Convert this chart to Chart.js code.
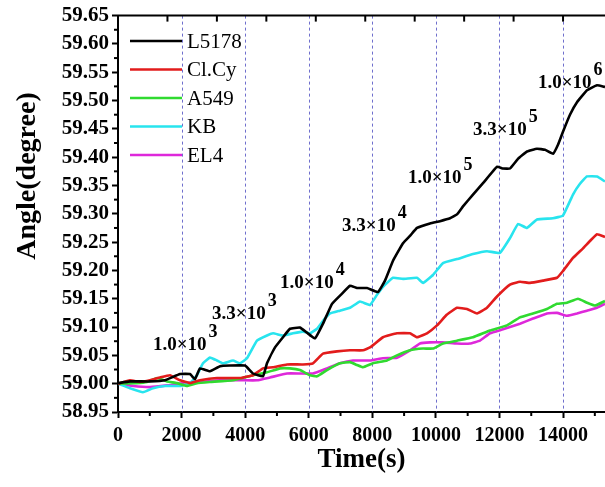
<!DOCTYPE html>
<html>
<head>
<meta charset="utf-8">
<script src="https://cdn.jsdelivr.net/npm/chart.js@4.4.1/dist/chart.umd.min.js"></script>
<style>
  html, body { margin: 0; padding: 0; background: #fff; }
  #wrap { width: 605px; height: 487px; position: relative; }
</style>
</head>
<body>
<div id="wrap"><canvas id="chart"></canvas></div>
<script>
// --- data ---
const seriesNames = ['L5178', 'Cl.Cy', 'A549', 'KB', 'EL4'];
const seriesColors = ['#000000', 'rgb(226,28,28)', 'rgb(48,218,48)', 'rgb(40,228,238)', 'rgb(222,40,218)'];

const l5178Time = [0, 377, 1007, 1478, 1950, 2265, 2422, 2579, 2894, 3209, 3523, 3995, 4247, 4561, 4687, 4939, 5190, 5410, 5725, 5945, 6197, 6449, 6732, 7046, 7298, 7518, 7833, 8179, 8399, 8651, 8965, 9185, 9406, 9815, 10129, 10444, 10664, 10852, 11167, 11482, 11922, 12111, 12331, 12583, 12866, 13180, 13432, 13684, 13841, 13998, 14218, 14439, 14753, 15068, 15320];
const l5178Angle = [59.001, 59.004, 59.004, 59.006, 59.017, 59.017, 59.008, 59.027, 59.022, 59.031, 59.032, 59.032, 59.018, 59.013, 59.036, 59.064, 59.082, 59.097, 59.099, 59.090, 59.080, 59.106, 59.141, 59.159, 59.173, 59.169, 59.169, 59.162, 59.182, 59.217, 59.248, 59.261, 59.275, 59.283, 59.287, 59.292, 59.299, 59.313, 59.334, 59.354, 59.383, 59.380, 59.380, 59.397, 59.410, 59.415, 59.413, 59.406, 59.422, 59.445, 59.475, 59.497, 59.518, 59.527, 59.524];

const clcyTime = [0, 377, 692, 1007, 1321, 1636, 1950, 2265, 2579, 3114, 3838, 4247, 4561, 4876, 5316, 5820, 6134, 6449, 6889, 7298, 7707, 7927, 8336, 8776, 9185, 9406, 9720, 10035, 10349, 10664, 10978, 11293, 11607, 11922, 12331, 12646, 12960, 13369, 13809, 13998, 14313, 14628, 14848, 15068, 15320];
const clcyAngle = [59.000, 59.006, 59.003, 59.006, 59.011, 59.015, 59.006, 59.001, 59.006, 59.010, 59.010, 59.015, 59.027, 59.029, 59.034, 59.034, 59.036, 59.053, 59.057, 59.059, 59.059, 59.064, 59.082, 59.089, 59.089, 59.082, 59.089, 59.103, 59.122, 59.134, 59.132, 59.124, 59.134, 59.154, 59.175, 59.180, 59.178, 59.182, 59.187, 59.199, 59.222, 59.239, 59.252, 59.264, 59.259];

const a549Time = [0, 598, 912, 1227, 1541, 1856, 2171, 2485, 2894, 3618, 4247, 4687, 5096, 5410, 5725, 6040, 6260, 6574, 6983, 7298, 7518, 7707, 8021, 8462, 8776, 9185, 9594, 9909, 10224, 10664, 11167, 11702, 12237, 12646, 13055, 13495, 13809, 14124, 14470, 14753, 15005, 15320];
const a549Angle = [59.000, 59.001, 59.003, 59.010, 59.004, 59.001, 58.996, 59.001, 59.003, 59.006, 59.015, 59.020, 59.027, 59.027, 59.024, 59.015, 59.013, 59.024, 59.036, 59.038, 59.033, 59.029, 59.036, 59.041, 59.050, 59.059, 59.062, 59.062, 59.071, 59.076, 59.082, 59.094, 59.103, 59.117, 59.124, 59.132, 59.141, 59.143, 59.150, 59.143, 59.138, 59.146];

const kbTime = [0, 377, 786, 1101, 1478, 1950, 2265, 2485, 2674, 2894, 3114, 3303, 3618, 3838, 4058, 4372, 4687, 4876, 5190, 5505, 5820, 6040, 6260, 6449, 6669, 6983, 7298, 7613, 7927, 8147, 8336, 8651, 8965, 9406, 9594, 9909, 10224, 10664, 11167, 11607, 12016, 12331, 12583, 12866, 13180, 13684, 13998, 14313, 14533, 14753, 15068, 15320];
const kbAngle = [59.000, 58.992, 58.985, 58.992, 58.996, 58.996, 59.001, 59.015, 59.036, 59.046, 59.041, 59.036, 59.041, 59.036, 59.045, 59.076, 59.085, 59.089, 59.085, 59.089, 59.092, 59.089, 59.097, 59.111, 59.124, 59.129, 59.134, 59.145, 59.139, 59.157, 59.171, 59.187, 59.185, 59.187, 59.178, 59.192, 59.213, 59.220, 59.229, 59.234, 59.231, 59.257, 59.282, 59.275, 59.290, 59.292, 59.297, 59.334, 59.353, 59.366, 59.366, 59.357];

const el4Time = [0, 472, 1007, 1541, 2045, 2579, 3209, 3932, 4372, 4781, 5316, 5725, 6134, 6574, 6983, 7392, 7927, 8336, 8776, 9185, 9500, 9815, 10224, 10664, 11073, 11387, 11702, 12111, 12646, 13055, 13495, 13809, 14124, 14439, 14753, 15068, 15320];
const el4Angle = [59.000, 58.996, 58.994, 58.997, 59.001, 59.003, 59.006, 59.006, 59.006, 59.011, 59.018, 59.018, 59.018, 59.027, 59.036, 59.041, 59.041, 59.045, 59.046, 59.059, 59.071, 59.073, 59.073, 59.071, 59.071, 59.076, 59.089, 59.096, 59.106, 59.115, 59.124, 59.125, 59.120, 59.124, 59.129, 59.134, 59.141];

// concentration labels (cells/mL) placed along the L5178 curve
const concMantissa = ['1.0\u00d710', '3.3\u00d710', '1.0\u00d710', '3.3\u00d710', '1.0\u00d710', '3.3\u00d710', '1.0\u00d710'];
const concExponent = ['3', '3', '4', '4', '5', '5', '6'];
const concTime = [1100, 2960, 5100, 7050, 9120, 11170, 13210];
const concAngle = [59.060, 59.115, 59.169, 59.269, 59.354, 59.440, 59.522];

const X_MAX = 15320;
const xMajorTicks = [0, 2000, 4000, 6000, 8000, 10000, 12000, 14000];
const xMinorTicks = [1000, 3000, 5000, 7000, 9000, 11000, 13000, 15000];
const yTickLabels = ['58.95', '59.00', '59.05', '59.10', '59.15', '59.20', '59.25', '59.30', '59.35', '59.40', '59.45', '59.50', '59.55', '59.60', '59.65'];

const serif = "'Liberation Serif', 'Times New Roman', serif";

const times = [l5178Time, clcyTime, a549Time, kbTime, el4Time];
const angles = [l5178Angle, clcyAngle, a549Angle, kbAngle, el4Angle];

const datasets = seriesNames.map((name, i) => ({
    label: name,
    data: times[i].map((t, k) => ({ x: t, y: angles[i][k] })),
    borderColor: seriesColors[i],
    backgroundColor: seriesColors[i],
    borderWidth: 2.6,
    pointRadius: 0,
    tension: 0.1,
    fill: false
}));

// dashed verticals, top frame, top ticks, minor ticks, y title
const decorations = {
    id: 'decorations',
    beforeDatasetsDraw(chart) {
        const { ctx, chartArea: a, scales: { x } } = chart;
        ctx.save();
        ctx.strokeStyle = 'rgba(95,95,200,0.9)';
        ctx.lineWidth = 1;
        ctx.setLineDash([3, 3]);
        xMajorTicks.slice(1).forEach(v => {
            const px = Math.round(x.getPixelForValue(v)) + 0.5;
            ctx.beginPath();
            ctx.moveTo(px, a.top);
            ctx.lineTo(px, a.bottom);
            ctx.stroke();
        });
        ctx.restore();
    },
    afterDraw(chart) {
        const { ctx, chartArea: a, scales: { x, y } } = chart;
        ctx.save();
        ctx.strokeStyle = '#000';
        ctx.lineWidth = 2;
        ctx.beginPath();
        ctx.moveTo(a.left - 1, a.top);
        ctx.lineTo(a.right, a.top);
        ctx.stroke();
        // top axis ticks (inward)
        for (let k = 1; k <= 9; k++) {
            const px = x.getPixelForValue(k * 14000 / 9);
            ctx.beginPath();
            ctx.moveTo(px, a.top);
            ctx.lineTo(px, a.top + 6);
            ctx.stroke();
        }
        // bottom minor ticks
        xMinorTicks.forEach(v => {
            const px = x.getPixelForValue(v);
            ctx.beginPath();
            ctx.moveTo(px, a.bottom);
            ctx.lineTo(px, a.bottom + 4);
            ctx.stroke();
        });
        // y minor ticks
        for (let k = 0; k < yTickLabels.length - 1; k++) {
            const v = (parseFloat(yTickLabels[k]) + parseFloat(yTickLabels[k + 1])) / 2;
            const py = y.getPixelForValue(v);
            ctx.beginPath();
            ctx.moveTo(a.left, py);
            ctx.lineTo(a.left - 4, py);
            ctx.stroke();
        }
        // y title
        ctx.fillStyle = '#000';
        ctx.font = 'bold 28px ' + serif;
        ctx.textAlign = 'center';
        ctx.textBaseline = 'middle';
        ctx.translate(28, 176);
        ctx.rotate(-Math.PI / 2);
        ctx.fillText('Angle(degree)', 0, 0);
        ctx.restore();
    }
};

// legend inside plot + concentration labels
const insideText = {
    id: 'insideText',
    afterDatasetsDraw(chart) {
        const { ctx, scales: { x, y } } = chart;
        ctx.save();
        chart.data.datasets.forEach((ds, i) => {
            const ly = 41 + i * 28.5;
            ctx.strokeStyle = ds.borderColor;
            ctx.lineWidth = 2.6;
            ctx.beginPath();
            ctx.moveTo(130, ly);
            ctx.lineTo(182, ly);
            ctx.stroke();
            ctx.fillStyle = '#000';
            ctx.font = '21px ' + serif;
            ctx.textAlign = 'left';
            ctx.textBaseline = 'middle';
            ctx.fillText(ds.label, 187, ly + 1);
        });
        ctx.fillStyle = '#000';
        ctx.textBaseline = 'alphabetic';
        concMantissa.forEach((m, i) => {
            const px = x.getPixelForValue(concTime[i]);
            const py = y.getPixelForValue(concAngle[i]);
            ctx.font = 'bold 19px ' + serif;
            ctx.fillText(m, px, py);
            const w = ctx.measureText(m).width;
            ctx.font = 'bold 18px ' + serif;
            ctx.fillText(concExponent[i], px + w + 2, py - 13);
        });
        ctx.restore();
    }
};

new Chart(document.getElementById('chart'), {
    type: 'line',
    data: { datasets: datasets },
    options: {
        responsive: true,
        maintainAspectRatio: false,
        animation: false,
        layout: { padding: { top: 13, right: 0, left: 0, bottom: 0 } },
        plugins: {
            legend: { display: false },
            tooltip: { enabled: false }
        },
        scales: {
            x: {
                type: 'linear',
                min: 0,
                max: X_MAX,
                afterBuildTicks: s => { s.ticks = xMajorTicks.map(v => ({ value: v })); },
                afterFit: s => { s.height = 75; },
                ticks: {
                    autoSkip: false,
                    maxRotation: 0,
                    padding: 6,
                    color: '#000',
                    font: { family: serif, weight: 'bold', size: 20 },
                    callback: v => String(v)
                },
                grid: {
                    drawOnChartArea: false,
                    tickLength: 6,
                    tickWidth: 2,
                    tickColor: '#000'
                },
                border: { display: true, color: '#000', width: 2 },
                title: {
                    display: true,
                    text: 'Time(s)',
                    color: '#000',
                    font: { family: serif, weight: 'bold', size: 27 },
                    padding: { top: 0, bottom: 11 }
                }
            },
            y: {
                min: 58.95,
                max: 59.65,
                afterBuildTicks: s => { s.ticks = yTickLabels.map(v => ({ value: parseFloat(v) })); },
                afterFit: s => { s.width = 118; },
                ticks: {
                    autoSkip: false,
                    padding: 3,
                    color: '#000',
                    font: { family: serif, weight: 'bold', size: 21 },
                    callback: (v, i) => yTickLabels[i]
                },
                grid: {
                    drawOnChartArea: false,
                    tickLength: 6,
                    tickWidth: 2,
                    tickColor: '#000'
                },
                border: { display: true, color: '#000', width: 2 }
            }
        }
    },
    plugins: [decorations, insideText]
});
</script>
</body>
</html>
